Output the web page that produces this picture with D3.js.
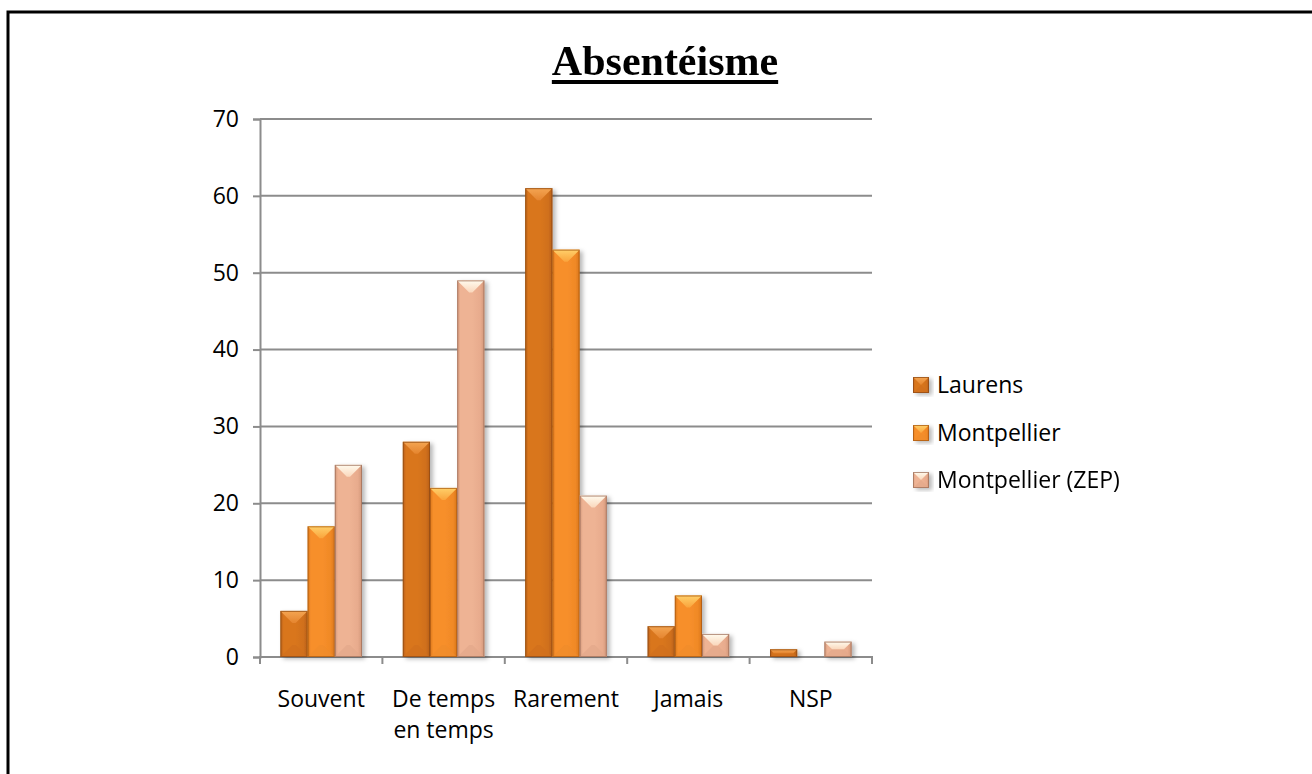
<!DOCTYPE html>
<html>
<head>
<meta charset="utf-8">
<script src="https://cdn.jsdelivr.net/npm/d3@7/dist/d3.min.js"></script>
<style>
  html, body { margin: 0; padding: 0; background: #ffffff; }
  svg { display: block; }
</style>
</head>
<body>
<svg id="chart" width="1312" height="774"></svg>
<script>
// ---- DATA ----
const categories = ["Souvent", "De temps en temps", "Rarement", "Jamais", "NSP"];
const categoryLines = [["Souvent"], ["De temps", "en temps"], ["Rarement"], ["Jamais"], ["NSP"]];
const seriesNames = ["Laurens", "Montpellier", "Montpellier (ZEP)"];
const laurens = [6, 28, 61, 4, 1];
const montpellier = [17, 22, 53, 8, 0];
const montpellierZep = [25, 49, 21, 3, 2];
const yTicks = [0, 10, 20, 30, 40, 50, 60, 70];
const titleText = "Absentéisme";

const seriesValues = [laurens, montpellier, montpellierZep];

// ---- STYLE ----
const palettes = [
  { left: "#D9761F", right: "#D0701D", edge: "#B85F16", top1: "#F4A552", top2: "#E5852F", bottom: "#D06F1E", stroke: "#8F4A12" },
  { left: "#F78F2B", right: "#F08926", edge: "#D9761A", top1: "#FFD06A", top2: "#FAA43C", bottom: "#F08C2B", stroke: "#A95A10" },
  { left: "#EEB394", right: "#E8AB8D", edge: "#D29779", top1: "#FFFBEE", top2: "#FAD7BC", bottom: "#E3A88A", stroke: "#9E6F5A" }
];

const svg = d3.select("#chart");
const font = "'Open Sans', 'DejaVu Sans', sans-serif";
const fs = 23;

const defs = svg.append("defs");
const filt = defs.append("filter").attr("id", "shadow")
  .attr("x", "-30%").attr("y", "-10%").attr("width", "160%").attr("height", "130%");
filt.append("feDropShadow").attr("dx", 3).attr("dy", 2).attr("stdDeviation", 2)
  .attr("flood-color", "#000").attr("flood-opacity", 0.28);
palettes.forEach((p, i) => {
  const g = defs.append("linearGradient").attr("id", "top" + i)
    .attr("x1", 0).attr("y1", 0).attr("x2", 0).attr("y2", 1);
  g.append("stop").attr("offset", "0%").attr("stop-color", p.top1);
  g.append("stop").attr("offset", "100%").attr("stop-color", p.top2);
  const h = defs.append("linearGradient").attr("id", "face" + i)
    .attr("x1", 0).attr("y1", 0).attr("x2", 1).attr("y2", 0);
  h.append("stop").attr("offset", "0%").attr("stop-color", p.edge);
  h.append("stop").attr("offset", "12%").attr("stop-color", p.left);
  h.append("stop").attr("offset", "55%").attr("stop-color", p.left);
  h.append("stop").attr("offset", "85%").attr("stop-color", p.right);
  h.append("stop").attr("offset", "100%").attr("stop-color", p.edge);
});

// outer border
svg.append("path")
  .attr("d", "M8,774 V12 H1312")
  .attr("fill", "none").attr("stroke", "#000").attr("stroke-width", 3);

// ---- SCALES ----
const x = d3.scaleBand().domain(categories).range([260, 872]).paddingInner(0).paddingOuter(0);
const xs = d3.scaleBand().domain(seriesNames).range([0, x.bandwidth()]).paddingInner(0).paddingOuter(0.75);
const y = d3.scaleLinear().domain([0, 70]).range([657, 119]);

const gridColor = "#8C8C8C";

// gridlines
svg.append("g").selectAll("line").data(yTicks.filter(t => t > 0)).join("line")
  .attr("x1", 260).attr("x2", 872)
  .attr("y1", d => y(d)).attr("y2", d => y(d))
  .attr("stroke", gridColor).attr("stroke-width", 2);

// y axis
const yAxis = svg.append("g").attr("transform", "translate(260,0)")
  .call(d3.axisLeft(y).tickValues(yTicks).tickSize(7).tickPadding(14).tickFormat(d3.format("d")));
yAxis.select(".domain").attr("stroke", gridColor).attr("stroke-width", 2);
yAxis.selectAll(".tick line").attr("stroke", gridColor).attr("stroke-width", 2);
yAxis.selectAll(".tick text").attr("font-family", font).attr("font-size", fs).attr("fill", "#000");

// x axis line
svg.append("line").attr("x1", 259).attr("x2", 873).attr("y1", y(0)).attr("y2", y(0))
  .attr("stroke", gridColor).attr("stroke-width", 2);
const boundaries = categories.map(c => x(c)).concat([x(categories[categories.length - 1]) + x.bandwidth()]);
svg.append("g").selectAll("line").data(boundaries).join("line")
  .attr("x1", d => d).attr("x2", d => d)
  .attr("y1", y(0)).attr("y2", y(0) + 7)
  .attr("stroke", gridColor).attr("stroke-width", 2);

// x labels
const xl = svg.append("g").selectAll("text").data(categories).join("text")
  .attr("x", c => x(c) + x.bandwidth() / 2)
  .attr("y", 707)
  .attr("text-anchor", "middle")
  .attr("font-family", font).attr("font-size", fs).attr("fill", "#000");
xl.each(function (c, i) {
  d3.select(this).selectAll("tspan").data(categoryLines[i]).join("tspan")
    .attr("x", x(c) + x.bandwidth() / 2)
    .attr("dy", (d, j) => j === 0 ? 0 : 31)
    .text(d => d);
});

// ---- BEVELED BAR ----
function bevelBar(g, x0, y0, w, h, si) {
  const p = palettes[si];
  const x1 = x0 + w, y1 = y0 + h;
  const d = Math.min(w / 2, h / 2, 12);
  const pts = a => a.map(q => q.join(",")).join(" ");
  const bar = g.append("g");
  bar.append("rect").attr("x", x0).attr("y", y0).attr("width", w).attr("height", h).attr("fill", "url(#face" + si + ")");
  bar.append("polygon").attr("points", pts([[x0, y1], [x1, y1], [x1 - d, y1 - d], [x0 + d, y1 - d]])).attr("fill", p.bottom).attr("opacity", 0.7);
  bar.append("polygon").attr("points", pts([[x0, y0], [x1, y0], [x1 - d, y0 + d], [x0 + d, y0 + d]])).attr("fill", "url(#top" + si + ")");
  bar.append("rect").attr("x", x0 + 0.5).attr("y", y0 + 0.5).attr("width", Math.max(0, w - 1)).attr("height", Math.max(0, h - 1))
    .attr("fill", "none").attr("stroke", p.stroke).attr("stroke-width", 1).attr("opacity", 0.75);
}

const barsG = svg.append("g").attr("filter", "url(#shadow)");
seriesNames.forEach((s, si) => {
  seriesValues[si].forEach((v, ci) => {
    if (v <= 0) return;
    const c = categories[ci];
    const bx = x(c) + xs(s);
    const by = y(v);
    bevelBar(barsG, bx, by, xs.bandwidth(), y(0) - by, si);
  });
});

// ---- LEGEND ----
const legendRows = [385, 433, 480];
const legG = svg.append("g");
seriesNames.forEach((s, si) => {
  const cy = legendRows[si];
  const lg = legG.append("g").attr("filter", "url(#shadow)");
  bevelBar(lg, 913, cy - 8, 16, 16, si);
  legG.append("text").attr("x", 937).attr("y", cy).attr("dy", "0.36em")
    .attr("font-family", font).attr("font-size", fs).attr("fill", "#000").text(s);
});

// ---- TITLE ----
const title = svg.append("text").attr("x", 665).attr("y", 75).attr("text-anchor", "middle")
  .attr("font-family", "'Liberation Serif', 'Times New Roman', serif")
  .attr("font-weight", "bold").attr("font-size", 42).attr("fill", "#000").text(titleText);
const bb = title.node().getBBox();
svg.append("rect").attr("x", bb.x).attr("y", 80).attr("width", bb.width).attr("height", 4).attr("fill", "#000");
</script>
</body>
</html>
